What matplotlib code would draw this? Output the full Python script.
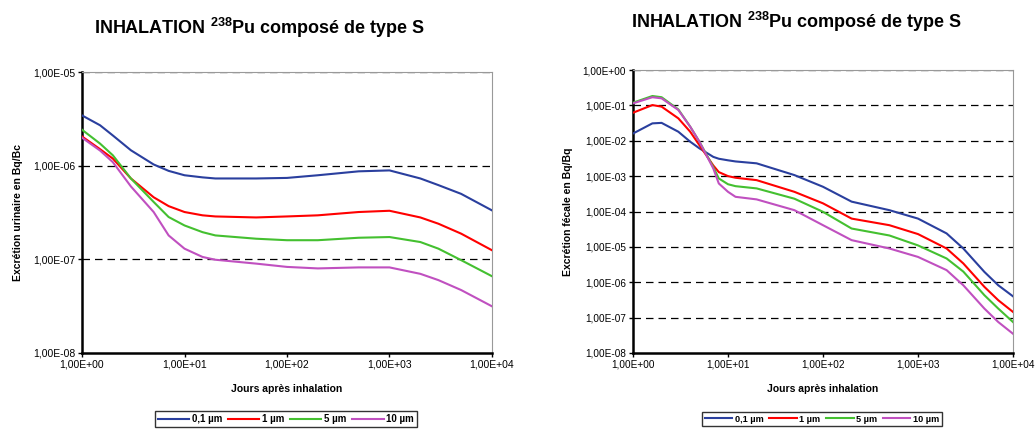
import matplotlib
matplotlib.use("Agg")
import matplotlib.pyplot as plt
from matplotlib.ticker import FixedLocator, FuncFormatter, NullLocator
from matplotlib.lines import Line2D

plt.rcParams['font.family'] = ['Liberation Sans', 'DejaVu Sans']
plt.rcParams['mathtext.fontset'] = 'custom'
plt.rcParams['mathtext.rm'] = 'Liberation Sans'
plt.rcParams['mathtext.bf'] = 'Liberation Sans:bold'

title_text = r"INHALATION $^{\mathbf{238}}$Pu composé de type S"
xlabel = "Jours après inhalation"
ylabel_left = "Excrétion urinaire en Bq/Bc"
ylabel_right = "Excrétion fécale en Bq/Bq"
series_names = ["0,1 µm", "1 µm", "5 µm", "10 µm"]
colors = ["#2A3F9E", "#FF0000", "#44C030", "#C050C0"]

# Urinary excretion
u_days = [1, 1.5, 2, 3, 5, 7, 10, 15, 20, 50, 100, 200, 500, 1000, 2000, 3000, 5000, 10000]
u_blue = [3.44e-6, 2.7e-6, 2.1e-6, 1.46e-6, 1.03e-6, 8.8e-7, 7.9e-7, 7.5e-7, 7.3e-7, 7.3e-7, 7.4e-7, 7.9e-7, 8.7e-7, 8.9e-7, 7.3e-7, 6.2e-7, 5.0e-7, 3.33e-7]
u_red = [2.05e-6, 1.5e-6, 1.19e-6, 7.3e-7, 4.6e-7, 3.7e-7, 3.2e-7, 2.95e-7, 2.87e-7, 2.8e-7, 2.87e-7, 2.95e-7, 3.2e-7, 3.3e-7, 2.8e-7, 2.4e-7, 1.88e-7, 1.25e-7]
u_green = [2.42e-6, 1.72e-6, 1.29e-6, 7.3e-7, 4.1e-7, 2.83e-7, 2.3e-7, 1.95e-7, 1.8e-7, 1.66e-7, 1.6e-7, 1.6e-7, 1.7e-7, 1.73e-7, 1.53e-7, 1.3e-7, 9.8e-8, 6.6e-8]
u_mag = [1.99e-6, 1.45e-6, 1.09e-6, 6.0e-7, 3.2e-7, 1.8e-7, 1.3e-7, 1.06e-7, 9.9e-8, 9.0e-8, 8.3e-8, 8.0e-8, 8.2e-8, 8.2e-8, 7.0e-8, 6.0e-8, 4.7e-8, 3.15e-8]

# Faecal excretion
f_days = [1, 1.6, 2, 3, 4, 5, 7, 8, 10, 12, 20, 50, 100, 200, 500, 1000, 2000, 3000, 5000, 7000, 10000]
f_blue = [1.6e-2, 3.1e-2, 3.2e-2, 1.8e-2, 9.4e-3, 6.1e-3, 3.5e-3, 3.1e-3, 2.8e-3, 2.6e-3, 2.3e-3, 1.07e-3, 5.0e-4, 1.9e-4, 1.09e-4, 6.3e-5, 2.4e-5, 9e-6, 1.96e-6, 8.2e-7, 4.0e-7]
f_red = [6.2e-2, 1.02e-1, 9.2e-2, 4.3e-2, 1.8e-2, 7.5e-3, 2.0e-3, 1.3e-3, 1.0e-3, 9.0e-4, 7.7e-4, 3.6e-4, 1.7e-4, 6.3e-5, 4.1e-5, 2.3e-5, 9e-6, 3.4e-6, 7.4e-7, 3.1e-7, 1.45e-7]
f_green = [1.19e-1, 1.84e-1, 1.7e-1, 7.7e-2, 2.5e-2, 9.4e-3, 1.8e-3, 8.6e-4, 5.9e-4, 5.2e-4, 4.5e-4, 2.3e-4, 9.8e-5, 3.3e-5, 2.1e-5, 1.1e-5, 4.7e-6, 2.0e-6, 4.3e-7, 1.8e-7, 7.5e-8]
f_mag = [1.14e-1, 1.7e-1, 1.58e-1, 7.4e-2, 2.5e-2, 9.4e-3, 1.65e-3, 6.2e-4, 3.6e-4, 2.6e-4, 2.2e-4, 1.09e-4, 4.1e-5, 1.55e-5, 9e-6, 5.2e-6, 2.2e-6, 8.2e-7, 1.8e-7, 7.5e-8, 3.5e-8]

x_ticks = [1, 10, 100, 1000, 10000]
u_yticks = [1e-8, 1e-7, 1e-6, 1e-5]
f_yticks = [1e-8, 1e-7, 1e-6, 1e-5, 1e-4, 1e-3, 1e-2, 1e-1, 1e0]


def fmt(v, pos=None):
    s = "%.2E" % v
    mant, exp = s.split("E")
    sign = exp[0]
    digits = exp[1:].zfill(2)
    return mant.replace(".", ",") + "E" + sign + digits


fig = plt.figure(figsize=(10.35, 4.32), dpi=100)

ax1 = fig.add_axes([82 / 1035, 1 - 353 / 432, 410 / 1035, 281 / 432])
ax2 = fig.add_axes([633 / 1035, 1 - 353 / 432, 380 / 1035, 283 / 432])


def style(ax, yticks, ylims, ylabel, fs):
    ax.set_xscale("log")
    ax.set_yscale("log")
    ax.set_xlim(1, 10000)
    ax.set_ylim(*ylims)
    ax.xaxis.set_major_locator(FixedLocator(x_ticks))
    ax.yaxis.set_major_locator(FixedLocator(yticks))
    ax.xaxis.set_minor_locator(NullLocator())
    ax.yaxis.set_minor_locator(NullLocator())
    ax.xaxis.set_major_formatter(FuncFormatter(fmt))
    ax.yaxis.set_major_formatter(FuncFormatter(fmt))
    ax.tick_params(axis="both", labelsize=fs, length=3, width=1, direction="out", pad=2,
                   colors="black")
    for t in yticks[1:]:
        ax.axhline(t, color="black", lw=0.9, ls=(0, (6, 4)), zorder=1)
    ax.spines["left"].set_linewidth(1.8)
    ax.spines["bottom"].set_linewidth(1.8)
    ax.spines["right"].set_color("#999999")
    ax.spines["top"].set_color("#999999")
    ax.spines["right"].set_linewidth(0.8)
    ax.spines["top"].set_linewidth(0.8)
    ax.set_xlabel(xlabel, fontsize=7.5, fontweight="bold", labelpad=10)
    ax.set_ylabel(ylabel, fontsize=7.5, fontweight="bold", labelpad=7)


style(ax1, u_yticks, (1e-8, 1e-5), ylabel_left, 7.5)
style(ax2, f_yticks, (1e-8, 1e0), ylabel_right, 7.2)

for ys, c, n in zip([u_blue, u_red, u_green, u_mag], colors, series_names):
    ax1.plot(u_days, ys, color=c, lw=1.5, label=n, zorder=3)
for ys, c, n in zip([f_blue, f_red, f_green, f_mag], colors, series_names):
    ax2.plot(f_days, ys, color=c, lw=1.5, label=n, zorder=3)

for ax, cx, ty in [(ax1, 260, 28), (ax2, 797, 22)]:
    fig.text(cx / 1035, 1 - ty / 432, title_text, ha="center", va="center",
             fontsize=13, fontweight="bold")

for ax, cx, fs, hl in [(ax1, 286, 7, 3.2), (ax2, 822, 6.6, 3.0)]:
    handles = [Line2D([], [], color=c, lw=1.5) for c in colors]
    leg = fig.legend(handles, series_names, loc="center", ncol=4,
                     bbox_to_anchor=(cx / 1035, 1 - 419 / 432),
                     prop={"size": fs, "weight": "bold"}, frameon=True, fancybox=False,
                     edgecolor="black", handlelength=hl, handletextpad=0.3,
                     columnspacing=0.6, borderpad=0.3, borderaxespad=0)
    leg.get_frame().set_linewidth(1.0)

fig.savefig("out.png", dpi=100)
